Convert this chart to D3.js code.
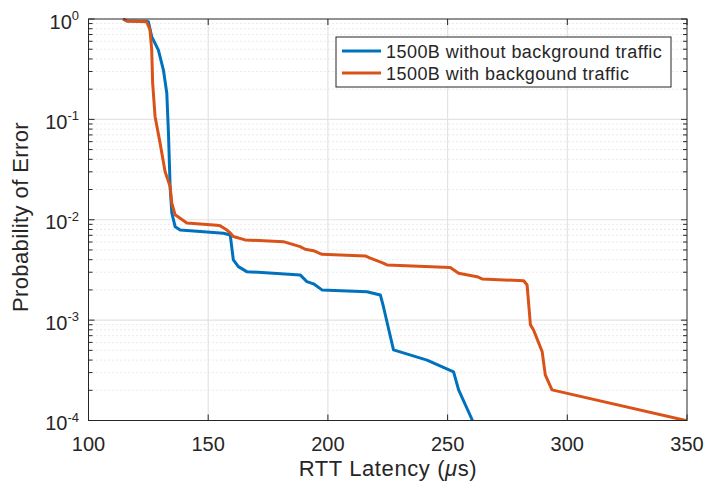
<!DOCTYPE html>
<html>
<head>
<meta charset="utf-8">
<script src="https://cdn.jsdelivr.net/npm/d3@7"></script>
<style>
  body { margin: 0; background: #fff; }
  text { font-family: "Liberation Sans", Arial, Helvetica, sans-serif; fill: #262626; }
</style>
</head>
<body>
<div id="chart"></div>
<script>
// RTT latency (us) and probability of error
const latencyNoBg = [114.5, 116.0, 124.3, 125.0, 126.4, 129.2, 131.3, 132.7, 133.4, 134.1, 134.8, 136.2, 138.3,
    156.4, 159.2, 160.5, 162.6, 166.1, 188.4, 191.2, 194.0, 197.5, 216.3, 221.9, 223.2, 227.4,
    241.4, 252.5, 254.6, 260.4];
const probNoBg = [1.0, 0.955, 0.95, 0.94, 0.667, 0.49, 0.31, 0.183, 0.073, 0.0212, 0.0117, 0.0085, 0.0079,
    0.00734, 0.00706, 0.00398, 0.00341, 0.00304, 0.00282, 0.00242, 0.0023, 0.0020, 0.00192, 0.00178, 0.00136, 0.000505,
    0.0004, 0.000305, 0.000202, 0.0001];

const latencyBg = [114.5, 116.0, 124.3, 125.7, 126.4, 126.8, 127.8, 129.9, 132.0, 134.1, 134.8, 136.2, 141.1,
    153.6, 155.0, 157.8, 159.2, 160.5, 165.4, 181.4, 188.4, 190.5, 194.0, 197.5, 215.6, 217.7, 222.6, 224.7,
    251.1, 254.6, 262.3, 264.4, 281.8, 283.2, 284.6, 285.9, 289.5, 290.8, 293.6, 349.5];
const probBg = [1.0, 0.955, 0.94, 0.777, 0.49, 0.229, 0.107, 0.058, 0.030, 0.0214, 0.0146, 0.0112, 0.0093,
    0.0088, 0.0087, 0.0079, 0.0074, 0.0068, 0.0063, 0.00605, 0.0054, 0.00508, 0.00492, 0.00453, 0.00436, 0.00414, 0.00374, 0.00355,
    0.00334, 0.00293, 0.00271, 0.00257, 0.00247, 0.00224, 0.000896, 0.000798, 0.000485, 0.000285, 0.000202, 0.0001];

const seriesNames = ["1500B without background traffic", "1500B with backgound traffic"];
const seriesColors = ["#0072BD", "#D95319"];

const xTicks = [100, 150, 200, 250, 300, 350];
const yExponents = [0, -1, -2, -3, -4];

const width = 708;
const height = 482;
const plot = { left: 88.5, right: 687, top: 19, bottom: 420.5 };
const axisColor = "#262626";

const svg = d3.select("#chart")
    .append("svg")
    .attr("width", width)
    .attr("height", height);

const x = d3.scaleLinear().domain([100, 350]).range([plot.left, plot.right]);
const y = d3.scaleLog().domain([1e-4, 1]).range([plot.bottom, plot.top]);

// minor y values 2..9 x 10^k
const minorY = [];
for (let k = -4; k < 0; k++) {
    for (let m = 2; m <= 9; m++) minorY.push(m * Math.pow(10, k));
}

// grid
const grid = svg.append("g");
grid.selectAll(".minor")
    .data(minorY)
    .enter()
    .append("line")
    .attr("x1", plot.left).attr("x2", plot.right)
    .attr("y1", d => y(d)).attr("y2", d => y(d))
    .attr("stroke", "#d4d4d4")
    .attr("stroke-width", 1)
    .attr("stroke-dasharray", "1,3");

grid.selectAll(".xmajor")
    .data(xTicks.slice(1, -1))
    .enter()
    .append("line")
    .attr("x1", d => x(d)).attr("x2", d => x(d))
    .attr("y1", plot.top).attr("y2", plot.bottom)
    .attr("stroke", "#e3e3e3")
    .attr("stroke-width", 1.2);

grid.selectAll(".ymajor")
    .data(yExponents.slice(1, -1))
    .enter()
    .append("line")
    .attr("x1", plot.left).attr("x2", plot.right)
    .attr("y1", d => y(Math.pow(10, d))).attr("y2", d => y(Math.pow(10, d)))
    .attr("stroke", "#e3e3e3")
    .attr("stroke-width", 1.2);

// lines
svg.append("clipPath").attr("id", "clip")
    .append("rect")
    .attr("x", plot.left).attr("y", plot.top - 2)
    .attr("width", plot.right - plot.left).attr("height", plot.bottom - plot.top + 2);

const line = d3.line()
    .x(d => x(d[0]))
    .y(d => y(d[1]));

const series = [
    d3.zip(latencyNoBg, probNoBg),
    d3.zip(latencyBg, probBg)
];

series.forEach((pts, i) => {
    svg.append("path")
        .datum(pts)
        .attr("clip-path", "url(#clip)")
        .attr("d", line)
        .attr("fill", "none")
        .attr("stroke", seriesColors[i])
        .attr("stroke-width", 3)
        .attr("stroke-linejoin", "round");
});

// axes box and ticks (inward, on all four sides)
const axes = svg.append("g")
    .attr("stroke", axisColor)
    .attr("stroke-width", 1);

axes.append("rect")
    .attr("x", plot.left).attr("y", plot.top)
    .attr("width", plot.right - plot.left).attr("height", plot.bottom - plot.top)
    .attr("fill", "none");

xTicks.forEach(t => {
    axes.append("line").attr("x1", x(t)).attr("x2", x(t)).attr("y1", plot.bottom).attr("y2", plot.bottom - 6);
    axes.append("line").attr("x1", x(t)).attr("x2", x(t)).attr("y1", plot.top).attr("y2", plot.top + 6);
});
yExponents.forEach(e => {
    const yy = y(Math.pow(10, e));
    axes.append("line").attr("x1", plot.left).attr("x2", plot.left + 6).attr("y1", yy).attr("y2", yy);
    axes.append("line").attr("x1", plot.right).attr("x2", plot.right - 6).attr("y1", yy).attr("y2", yy);
});
minorY.forEach(v => {
    axes.append("line").attr("x1", plot.left).attr("x2", plot.left + 4).attr("y1", y(v)).attr("y2", y(v));
    axes.append("line").attr("x1", plot.right).attr("x2", plot.right - 4).attr("y1", y(v)).attr("y2", y(v));
});

// tick labels
svg.append("g")
    .selectAll("text")
    .data(xTicks)
    .enter()
    .append("text")
    .attr("x", d => x(d))
    .attr("y", plot.bottom + 30)
    .attr("text-anchor", "middle")
    .attr("font-size", 20)
    .text(d => d);

const yLabels = svg.append("g");
yExponents.forEach(e => {
    const yy = y(Math.pow(10, e));
    const t = yLabels.append("text")
        .attr("x", 79)
        .attr("y", yy + 9.5)
        .attr("text-anchor", "end")
        .attr("font-size", 20);
    t.append("tspan").text("10");
    t.append("tspan")
        .attr("dy", -8.5)
        .attr("font-size", 13)
        .text(e === 0 ? "0" : "-" + Math.abs(e));
});

// axis titles
const xLabel = svg.append("text")
    .attr("x", 388)
    .attr("y", 476)
    .attr("text-anchor", "middle")
    .attr("font-size", 22)
    .attr("letter-spacing", 0.6);
xLabel.append("tspan").text("RTT Latency (");
xLabel.append("tspan").attr("font-style", "italic").text("\u03bc");
xLabel.append("tspan").text("s)");

svg.append("text")
    .attr("transform", "translate(28, 217) rotate(-90)")
    .attr("text-anchor", "middle")
    .attr("font-size", 22)
    .attr("letter-spacing", 0.4)
    .text("Probability of Error");

// legend
const legend = svg.append("g")
    .attr("transform", "translate(336, 37)");

legend.append("rect")
    .attr("x", 0).attr("y", 0)
    .attr("width", 335).attr("height", 50)
    .attr("fill", "#fff")
    .attr("stroke", axisColor)
    .attr("stroke-width", 1);

seriesNames.forEach((name, i) => {
    legend.append("line")
        .attr("x1", 6).attr("x2", 45)
        .attr("y1", 14 + i * 22).attr("y2", 14 + i * 22)
        .attr("stroke", seriesColors[i])
        .attr("stroke-width", 3);
    legend.append("text")
        .attr("x", 50)
        .attr("y", 20.5 + i * 22)
        .attr("font-size", 18)
        .attr("letter-spacing", 0.45)
        .text(name);
});
</script>
</body>
</html>
